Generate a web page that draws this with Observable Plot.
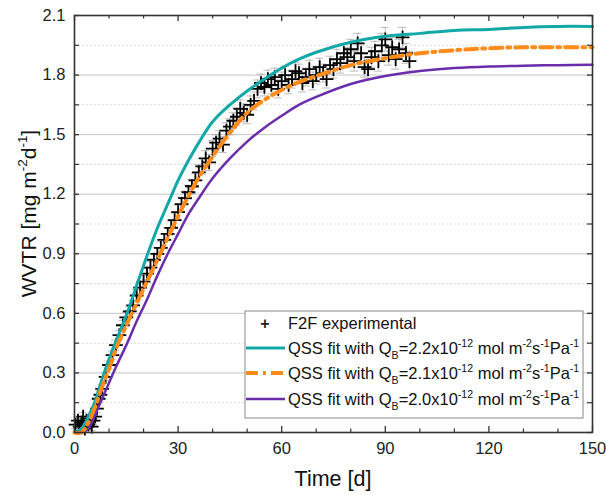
<!DOCTYPE html>
<html>
<head>
<meta charset="utf-8">
<script src="https://cdn.jsdelivr.net/npm/d3@7"></script>
<script src="https://cdn.jsdelivr.net/npm/@observablehq/plot@0.6"></script>
<style>
  body { margin: 0; background: #fff; }
  #chart { width: 606px; height: 495px; }
</style>
</head>
<body>
<div id="chart"></div>
<script>
const expT = [0.3,1,1.5,2,2.5,3,3.5,4,4.5,5,5.5,6,6.5,7,7.5,8,9,10,11,12,13,14,15,16,17,18,19,20,21,22,23,24,25,26,27,28,29,30,31,32,33,34,35,36,37,38,39,40,41,42,43,44,45,46,47,48,49,50,51,52,53,54,55,56,57,58,59,60,61,62,63,64,65,66,67,68,69,70,71,72,73,74,75,76,77,78,79,80,81,82,83,84,85,86,87,88,89,90,91,92,93,94,95,96,97];
const expY = [0.04,0.06,0.03,0.05,0.08,0.02,0.06,0.04,0.07,0.03,0.06,0.08,0.12,0.17,0.19,0.22,0.28,0.34,0.39,0.44,0.49,0.54,0.58,0.61,0.64,0.69,0.73,0.76,0.80,0.83,0.87,0.90,0.93,0.97,1.00,1.03,1.07,1.11,1.15,1.18,1.21,1.24,1.27,1.31,1.34,1.38,1.36,1.43,1.46,1.48,1.45,1.52,1.54,1.57,1.59,1.63,1.61,1.60,1.65,1.67,1.73,1.76,1.74,1.78,1.75,1.79,1.73,1.77,1.80,1.75,1.78,1.82,1.81,1.76,1.79,1.83,1.77,1.80,1.84,1.81,1.78,1.85,1.83,1.88,1.86,1.91,1.89,1.93,1.87,1.96,1.91,1.84,1.83,1.89,1.92,1.87,1.95,1.98,1.90,1.94,1.88,1.93,1.99,1.91,1.87];
const expErr = [0.02,0.02,0.02,0.02,0.02,0.02,0.02,0.02,0.02,0.02,0.02,0.02,0.02,0.02,0.02,0.02,0.02,0.02,0.02,0.025,0.025,0.025,0.025,0.025,0.025,0.03,0.03,0.03,0.03,0.03,0.03,0.03,0.03,0.03,0.03,0.035,0.035,0.035,0.035,0.035,0.035,0.035,0.035,0.04,0.04,0.04,0.04,0.04,0.04,0.04,0.04,0.04,0.04,0.04,0.045,0.045,0.045,0.045,0.045,0.045,0.045,0.045,0.045,0.045,0.045,0.045,0.045,0.045,0.045,0.045,0.045,0.045,0.045,0.045,0.045,0.045,0.045,0.045,0.045,0.045,0.045,0.045,0.045,0.05,0.05,0.05,0.05,0.05,0.05,0.05,0.05,0.05,0.05,0.05,0.05,0.05,0.06,0.06,0.05,0.05,0.05,0.05,0.05,0.05,0.05];

// QSS fit curves
const fitT  = [0,2,4,6,8,10,12,15,18,21,24,27,30,33,36,40,45,50,55,60,65,70,80,90,100,110,120,130,140,150];
const fit22 = [0,0.02,0.08,0.16,0.27,0.37,0.46,0.59,0.74,0.89,1.03,1.15,1.27,1.37,1.46,1.565,1.65,1.72,1.78,1.835,1.88,1.915,1.965,1.995,2.01,2.025,2.03,2.04,2.045,2.045];
const fit21 = [0,0.0,0.05,0.13,0.23,0.32,0.42,0.54,0.65,0.76,0.87,0.98,1.09,1.19,1.285,1.39,1.51,1.61,1.675,1.725,1.765,1.795,1.85,1.885,1.91,1.925,1.935,1.94,1.94,1.94];
const fit20 = [0,0,0.02,0.09,0.17,0.25,0.33,0.44,0.56,0.67,0.79,0.90,1.00,1.10,1.18,1.28,1.38,1.465,1.535,1.595,1.65,1.69,1.755,1.795,1.82,1.835,1.843,1.847,1.85,1.852];

const xMajor = [0,30,60,90,120,150];
const xMinor = [10,20,40,50,70,80,100,110,130,140];
const yMajor = [0,0.3,0.6,0.9,1.2,1.5,1.8,2.1];
const yMinor = [0.15,0.45,0.75,1.05,1.35,1.65,1.95];

const cTeal = "#12a8a8", cOrange = "#ff8c1a", cPurple = "#6a2eab";

const points = expT.map((t, i) => ({t, y: expY[i], e: expErr[i]}));
const fits = fitT.map((t, i) => ({t, a: fit22[i], b: fit21[i], c: fit20[i]}));

const W = 606, H = 495, mL = 74, mR = 14, mT = 15, mB = 63;
const iw = W - mL - mR, ih = H - mT - mB;

const plot = Plot.plot({
  width: W, height: H,
  marginLeft: mL, marginRight: mR, marginTop: mT, marginBottom: mB,
  style: {fontFamily: "'Liberation Sans', Arial, sans-serif", fontSize: "16.5px", color: "#222", background: "#fff"},
  x: {domain: [0, 150]},
  y: {domain: [0, 2.1]},
  marks: [
    Plot.ruleY(yMinor, {stroke: "#cfcfcf", strokeWidth: 0.8, strokeDasharray: "2,2"}),
    Plot.ruleY(yMajor.slice(1, -1), {stroke: "#c4c4c4", strokeWidth: 1}),
    // error bars
    Plot.ruleX(points, {x: "t", y1: d => d.y - d.e, y2: d => d.y + d.e, stroke: "#a0a0a0", strokeWidth: 0.7}),
    Plot.ruleY(points, {y: d => d.y + d.e, x1: d => d.t - 1.2, x2: d => d.t + 1.2, stroke: "#a0a0a0", strokeWidth: 0.7}),
    Plot.ruleY(points, {y: d => d.y - d.e, x1: d => d.t - 1.2, x2: d => d.t + 1.2, stroke: "#a0a0a0", strokeWidth: 0.7}),
    Plot.dot(points, {x: "t", y: "y", symbol: "plus", r: 4.5, stroke: "#000", strokeWidth: 1.8}),
    Plot.line(fits, {x: "t", y: "c", stroke: cPurple, strokeWidth: 2.5, curve: "catmull-rom"}),
    Plot.line(fits, {x: "t", y: "a", stroke: cTeal, strokeWidth: 3, curve: "catmull-rom"}),
    Plot.line(fits, {x: "t", y: "b", stroke: cOrange, strokeWidth: 4, strokeDasharray: "12,5,3,5", curve: "catmull-rom"}),
    // inward ticks
    Plot.ruleX(xMajor, {insetTop: ih - 6, stroke: "#333", strokeWidth: 1.3}),
    Plot.ruleX(xMinor, {insetTop: ih - 3.5, stroke: "#333", strokeWidth: 1.2}),
    Plot.ruleX(xMajor, {insetBottom: ih - 6, stroke: "#333", strokeWidth: 1.3}),
    Plot.ruleX(xMinor, {insetBottom: ih - 3.5, stroke: "#333", strokeWidth: 1.2}),
    Plot.ruleY(yMajor, {insetRight: iw - 5, stroke: "#333", strokeWidth: 1.3}),
    Plot.ruleY(yMinor, {insetRight: iw - 5, stroke: "#333", strokeWidth: 1.2}),
    Plot.ruleY(yMajor, {insetLeft: iw - 5, stroke: "#333", strokeWidth: 1.3}),
    Plot.ruleY(yMinor, {insetLeft: iw - 5, stroke: "#333", strokeWidth: 1.2}),
    Plot.frame({stroke: "#333", strokeWidth: 1.6}),
    Plot.axisX(xMajor, {tickSize: 0, tickPadding: 10, tickFormat: d3.format("d"), label: null, fontSize: 16.5}),
    Plot.axisY(yMajor, {tickSize: 0, tickPadding: 9, tickFormat: d3.format(".1f"), label: null, fontSize: 16.5})
  ]
});

document.getElementById("chart").appendChild(plot);

const svg = d3.select(plot);
const ff = "'Liberation Sans', Arial, sans-serif";

// axis titles
svg.append("text").attr("x", mL + iw / 2).attr("y", 486).attr("text-anchor", "middle")
  .attr("font-family", ff).attr("font-size", 21.5).attr("fill", "#111").text("Time [d]");

const yl = svg.append("text").attr("transform", `translate(36,${mT + ih / 2 - 10}) rotate(-90)`)
  .attr("text-anchor", "middle").attr("font-family", ff).attr("font-size", 21).attr("fill", "#111");
function rich(el, parts, size) {
  parts.forEach(p => {
    const ts = el.append("tspan").text(p[0]);
    if (p[1] === "sup") ts.attr("font-size", size * 0.64).attr("dy", -size * 0.42);
    if (p[1] === "sub") ts.attr("font-size", size * 0.64).attr("dy", size * 0.3);
    if (p[1] === "base-after-sup") ts.attr("dy", size * 0.42);
    if (p[1] === "base-after-sub") ts.attr("dy", -size * 0.3);
  });
}
rich(yl, [["WVTR [mg m"], ["-2", "sup"], ["d", "base-after-sup"], ["-1", "sup"], ["]", "base-after-sup"]], 21);

// legend
const legendLabels = ["F2F experimental", "2.2", "2.1", "2.0"];
const lg = svg.append("g").attr("text-anchor", "start");
lg.append("rect").attr("x", 245).attr("y", 311).attr("width", 338).attr("height", 107)
  .attr("fill", "#fff").attr("stroke", "#888").attr("stroke-width", 1);
const rowY = [323, 348, 373, 399];
lg.append("text").attr("x", 265).attr("y", rowY[0]).attr("dy", "0.36em").attr("text-anchor", "middle")
  .attr("font-family", ff).attr("font-size", 16).attr("font-weight", "bold").text("+");
lg.append("text").attr("x", 288).attr("y", rowY[0]).attr("dy", "0.36em").attr("text-anchor", "start")
  .attr("font-family", ff).attr("font-size", 16.5).attr("fill", "#111").text(legendLabels[0]);
const styles = [
  {c: cTeal, w: 3, d: null},
  {c: cOrange, w: 4, d: "12,5,3,5"},
  {c: cPurple, w: 2.5, d: null}
];
for (let i = 0; i < 3; i++) {
  const y = rowY[i + 1];
  const ln = lg.append("line").attr("x1", 246).attr("x2", 285).attr("y1", y).attr("y2", y)
    .attr("stroke", styles[i].c).attr("stroke-width", styles[i].w);
  if (styles[i].d) ln.attr("stroke-dasharray", styles[i].d);
  const t = lg.append("text").attr("x", 288).attr("y", y).attr("dy", "0.36em").attr("text-anchor", "start")
    .attr("font-family", ff).attr("font-size", 16.5).attr("fill", "#111");
  rich(t, [["QSS fit with Q"], ["B", "sub"], ["=" + legendLabels[i + 1] + "x10", "base-after-sub"], ["-12", "sup"],
           [" mol m", "base-after-sup"], ["-2", "sup"], ["s", "base-after-sup"], ["-1", "sup"],
           ["Pa", "base-after-sup"], ["-1", "sup"]], 16.5);
}
</script>
</body>
</html>
